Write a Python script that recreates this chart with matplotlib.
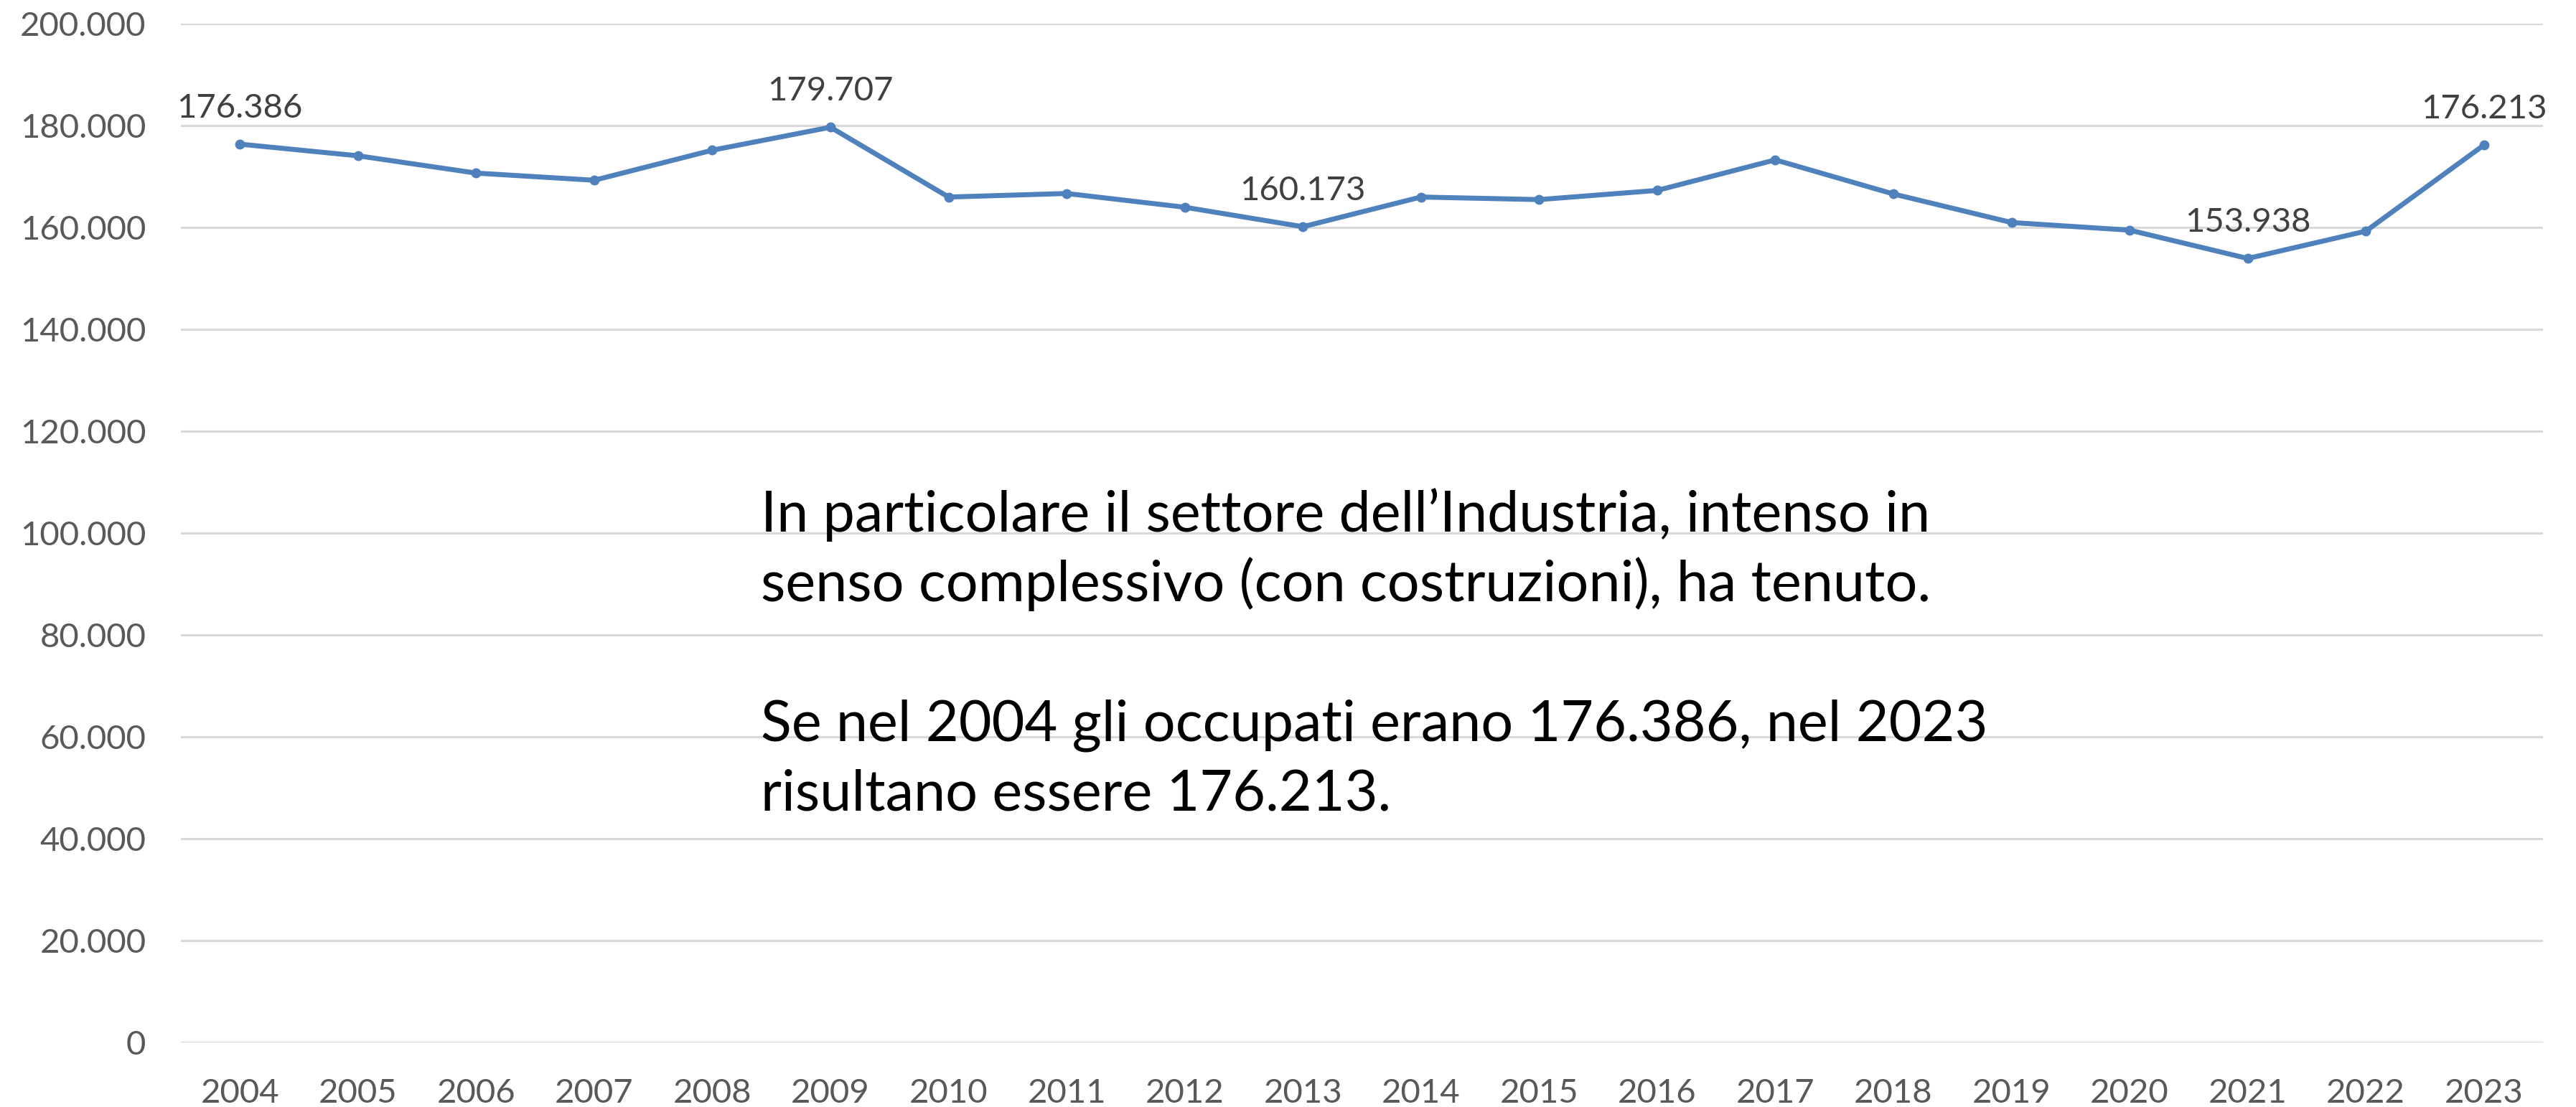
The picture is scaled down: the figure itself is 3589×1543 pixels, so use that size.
import matplotlib
matplotlib.use("Agg")
import matplotlib.pyplot as plt
from matplotlib.ticker import FuncFormatter

plt.rcParams['font.family'] = ['Lato', 'DejaVu Sans']

# occupati nell'Industria (con costruzioni)
anni = [str(a) for a in range(2004, 2024)]
occupati = [176386, 174100, 170700, 169300, 175200, 179707, 166000, 166700,
            164000, 160173, 166000, 165500, 167300, 173300, 166600, 161000,
            159500, 153938, 159300, 176213]
# anni con etichetta del valore
anni_etichetta = ['2004', '2009', '2013', '2021', '2023']

righe_nota = ["In particolare il settore dell\u2019Industria, intenso in",
              "senso complessivo (con costruzioni), ha tenuto.",
              "",
              "Se nel 2004 gli occupati erano 176.386, nel 2023",
              "risultano essere 176.213."]

blu = '#4F81BD'
grigio_tick = '#595959'
grigio_label = '#404040'

W, H = 3589, 1543
fig = plt.figure(figsize=(W / 100, H / 100), dpi=100)
ax = fig.add_axes([252 / W, 90 / H, (3543 - 252) / W, (1453 - 33.3) / H])

x = list(range(len(anni)))
ax.plot(x, occupati, color=blu, linewidth=5, marker='o', markersize=9, zorder=3)

for i, (anno, val) in enumerate(zip(anni, occupati)):
    if anno in anni_etichetta:
        ax.annotate(f"{val:,}".replace(',', '.'), (i, val), xytext=(0, 36),
                    textcoords='offset points', ha='center', va='center',
                    fontsize=34, color=grigio_label)

ax.set_xlim(-0.5, len(anni) - 0.5)
ax.set_ylim(0, 200000)
ax.set_yticks(range(0, 200001, 20000))
ax.yaxis.set_major_formatter(FuncFormatter(lambda v, p: f"{int(v):,}".replace(',', '.')))
ax.set_xticks(x)
ax.set_xticklabels(anni)

ax.grid(axis='y', color='#D9D9D9', linewidth=2.2)
ax.set_axisbelow(True)
for s in ax.spines.values():
    s.set_visible(False)
ax.tick_params(axis='both', length=0, labelsize=34, colors=grigio_tick)
ax.tick_params(axis='y', pad=35)
ax.tick_params(axis='x', pad=36)

# testo del commento, una riga alla volta (baseline in pixel)
base0, passo = 741, 97
for k, riga in enumerate(righe_nota):
    if riga:
        fig.text(1060 / W, 1 - (base0 + k * passo) / H, riga, ha='left',
                 va='baseline', fontsize=57, color='black')

fig.savefig('out.png', dpi=100)
